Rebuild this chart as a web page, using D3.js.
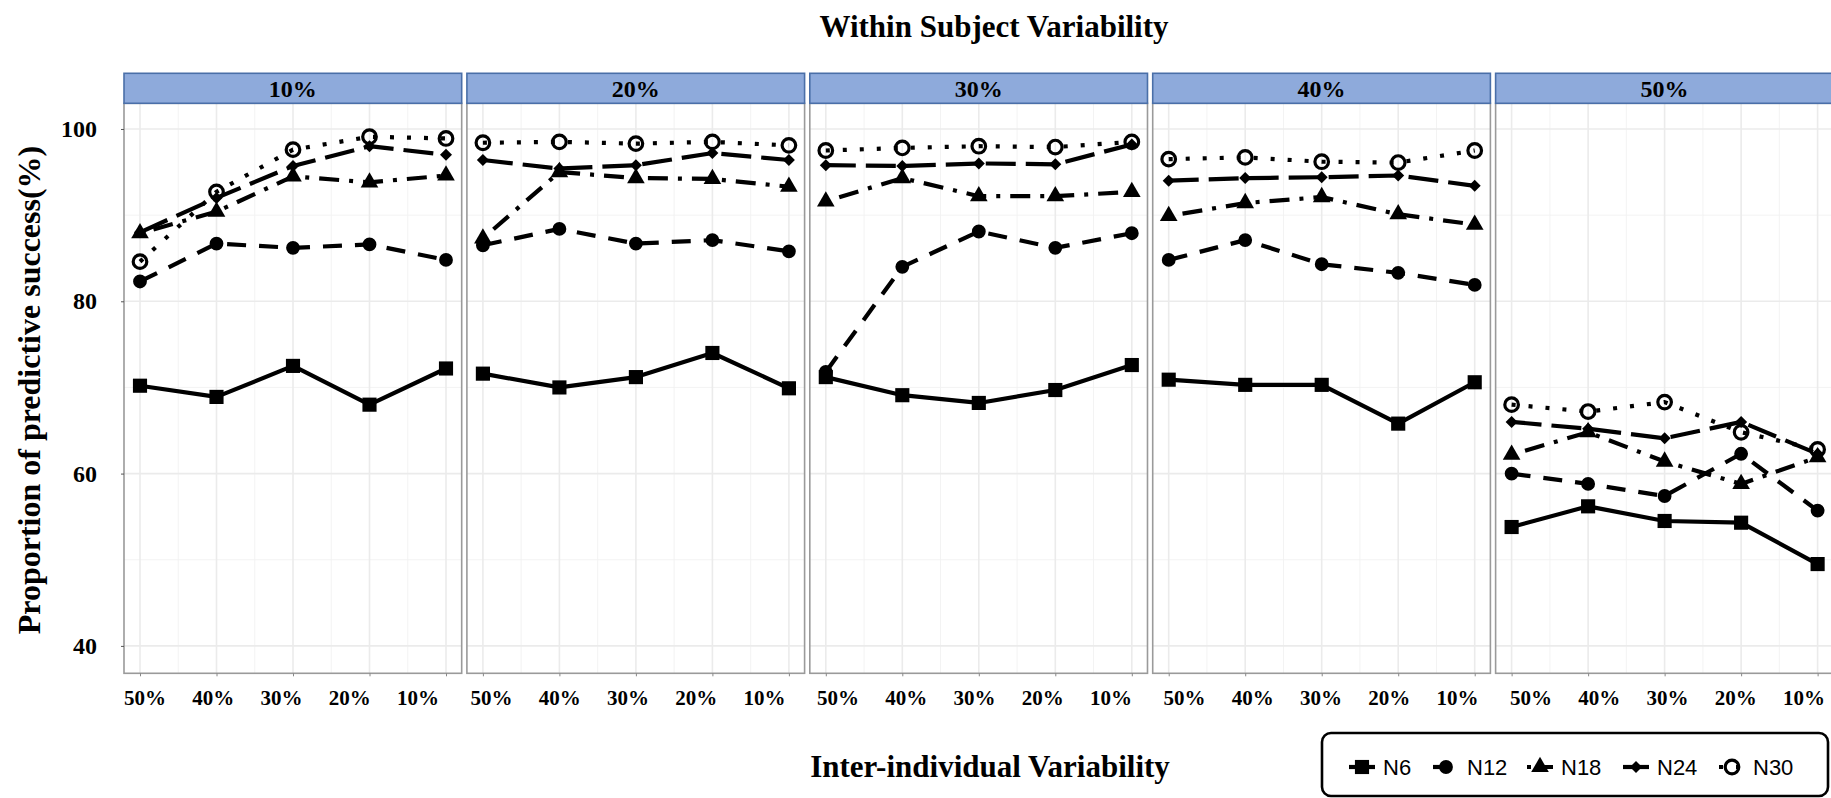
<!DOCTYPE html>
<html>
<head>
<meta charset="utf-8">
<script src="https://cdn.jsdelivr.net/npm/d3@7"></script>
<style>
  body { margin: 0; background: #fff; }
  .serif { font-family: "Liberation Serif", "Times New Roman", serif; }
  .sans { font-family: "Liberation Sans", Arial, sans-serif; }
</style>
</head>
<body>
<script>
// facets (within subject variability) and x categories (inter-individual variability)
var facets = ["10%", "20%", "30%", "40%", "50%"];
var interLevels = ["50%", "40%", "30%", "20%", "10%"];
var groups = ["N6", "N12", "N18", "N24", "N30"];

// one row per facet, one value per inter level
var n6  = [[70.2, 68.9, 72.5, 68.0, 72.2], [71.6, 70.0, 71.2, 74.0, 69.9], [71.2, 69.1, 68.2, 69.7, 72.6], [70.9, 70.3, 70.3, 65.8, 70.6], [53.8, 56.2, 54.5, 54.3, 49.5]];
var n12 = [[82.3, 86.7, 86.2, 86.6, 84.8], [86.5, 88.4, 86.7, 87.1, 85.8], [71.8, 84.0, 88.1, 86.2, 87.9], [84.8, 87.1, 84.3, 83.3, 81.9], [60.0, 58.8, 57.4, 62.3, 55.7]];
var n18 = [[87.9, 90.4, 94.5, 93.8, 94.6], [87.3, 95.0, 94.3, 94.2, 93.3], [91.6, 94.3, 92.2, 92.2, 92.7], [89.9, 91.4, 92.1, 90.1, 88.9], [62.2, 64.8, 61.4, 58.8, 61.9]];
var n24 = [[88.0, 92.0, 95.7, 98.0, 97.0], [96.4, 95.4, 95.8, 97.2, 96.4], [95.8, 95.7, 96.0, 95.9, 98.2], [94.0, 94.3, 94.4, 94.6, 93.4], [66.0, 65.2, 64.1, 66.0, 62.3]];
var n30 = [[84.6, 92.7, 97.6, 99.1, 98.9], [98.4, 98.5, 98.3, 98.5, 98.1], [97.5, 97.8, 98.0, 97.9, 98.5], [96.5, 96.7, 96.2, 96.1, 97.5], [68.0, 67.2, 68.3, 64.8, 62.8]];

var yTicks = [40, 60, 80, 100];
var yMinor = [50, 70, 90];

var seriesValues = { N6: n6, N12: n12, N18: n18, N24: n24, N30: n30 };

var W = 1831, H = 798;
var plotTop = 103.3, plotBottom = 673.3;

var svg = d3.select("body").append("svg")
    .attr("width", W)
    .attr("height", H);

// panel positions
var fx = d3.scaleBand()
    .domain(facets)
    .range([124, 124 + 4 * 342.9 + 337.7])
    .paddingInner(0.0152)
    .paddingOuter(0);
var pw = fx.bandwidth();

var y = d3.scaleLinear().domain([36.82, 102.98]).range([plotBottom, plotTop]);
var x = d3.scalePoint().domain(interLevels).range([16, 322]);
// tick labels sit on a slightly different spacing than the ticks in the original
var xLab = d3.scalePoint().domain(interLevels).range([21, 294]);

// line types and marker shapes
var dashes = { N6: null, N12: "19,13", N18: "4,10,20,10", N24: "30,10", N30: "4,13" };
var lineW = 4.2;

function marker(sel, g) {
  if (g === "N6") {
    sel.append("path").attr("d", d3.symbol(d3.symbolSquare, 200)()).attr("fill", "#000");
  } else if (g === "N12") {
    sel.append("path").attr("d", d3.symbol(d3.symbolCircle, 150)()).attr("fill", "#000");
  } else if (g === "N18") {
    sel.append("path").attr("d", d3.symbol(d3.symbolTriangle, 135)()).attr("fill", "#000");
  } else if (g === "N24") {
    sel.append("path").attr("d", d3.symbol(d3.symbolSquare, 72)()).attr("transform", "rotate(45)").attr("fill", "#000");
  } else {
    sel.append("circle").attr("r", 6.8).attr("fill", "none").attr("stroke", "#000").attr("stroke-width", 3.2);
  }
}

var mids = [];
for (var i = 0; i < interLevels.length - 1; i++) {
  mids.push((x(interLevels[i]) + x(interLevels[i + 1])) / 2);
}

facets.forEach(function(f, fi) {
  var g = svg.append("g").attr("transform", "translate(" + fx(f) + ",0)");

  g.append("rect")
      .attr("x", 0).attr("y", plotTop)
      .attr("width", pw).attr("height", plotBottom - plotTop)
      .attr("fill", "#fff");

  // grid
  g.selectAll(".ymin").data(yMinor).enter().append("line")
      .attr("x1", 0).attr("x2", pw)
      .attr("y1", d => y(d)).attr("y2", d => y(d))
      .attr("stroke", "#f2f2f2").attr("stroke-width", 0.9);
  g.selectAll(".xmin").data(mids).enter().append("line")
      .attr("x1", d => d).attr("x2", d => d)
      .attr("y1", plotTop).attr("y2", plotBottom)
      .attr("stroke", "#f2f2f2").attr("stroke-width", 0.9);
  g.selectAll(".ymaj").data(yTicks).enter().append("line")
      .attr("x1", 0).attr("x2", pw)
      .attr("y1", d => y(d)).attr("y2", d => y(d))
      .attr("stroke", "#ebebeb").attr("stroke-width", 1.6);
  g.selectAll(".xmaj").data(interLevels).enter().append("line")
      .attr("x1", d => x(d)).attr("x2", d => x(d))
      .attr("y1", plotTop).attr("y2", plotBottom)
      .attr("stroke", "#ebebeb").attr("stroke-width", 1.6);

  // lines first, then points on top
  var line = d3.line()
      .x((d, i) => x(interLevels[i]))
      .y(d => y(d));

  groups.forEach(function(s) {
    g.append("path")
        .attr("d", line(seriesValues[s][fi]))
        .attr("fill", "none")
        .attr("stroke", "#000")
        .attr("stroke-width", lineW)
        .attr("stroke-dasharray", dashes[s])
        .attr("stroke-linejoin", "round");
  });
  groups.forEach(function(s) {
    seriesValues[s][fi].forEach(function(v, i) {
      var m = g.append("g").attr("transform", "translate(" + x(interLevels[i]) + "," + y(v) + ")");
      marker(m, s);
    });
  });

  // border
  g.append("rect")
      .attr("x", 0).attr("y", plotTop)
      .attr("width", pw).attr("height", plotBottom - plotTop)
      .attr("fill", "none").attr("stroke", "#9a9a9a").attr("stroke-width", 1.6);

  // strip
  g.append("rect")
      .attr("x", 0).attr("y", 73.3)
      .attr("width", pw).attr("height", 30)
      .attr("fill", "#8eaadb").attr("stroke", "#4a6fa8").attr("stroke-width", 1.6);
  g.append("text")
      .attr("class", "serif")
      .attr("x", pw / 2).attr("y", 96.5)
      .attr("text-anchor", "middle")
      .attr("font-size", 24).attr("font-weight", "bold")
      .text(f);

  // x ticks
  var ax = g.append("g")
      .attr("transform", "translate(0," + plotBottom + ")")
      .call(d3.axisBottom(x).tickSize(3).tickFormat(""));
  ax.select(".domain").remove();
  ax.selectAll("line").attr("stroke", "#888").attr("stroke-width", 1);

  g.selectAll(".xlab").data(interLevels).enter().append("text")
      .attr("class", "serif")
      .attr("x", d => xLab(d) + fi * 3.6)
      .attr("y", 705)
      .attr("text-anchor", "middle")
      .attr("font-size", 21).attr("font-weight", "bold")
      .text(d => d);
});

// y axis on first panel
var ay = svg.append("g")
    .attr("transform", "translate(" + fx(facets[0]) + ",0)")
    .call(d3.axisLeft(y).tickValues(yTicks).tickSize(3).tickPadding(24));
ay.select(".domain").remove();
ay.selectAll("line").attr("stroke", "#555");
ay.selectAll("text")
    .attr("class", "serif")
    .attr("font-family", null)
    .attr("font-size", 24).attr("font-weight", "bold").attr("fill", "#000");

// titles
svg.append("text")
    .attr("class", "serif")
    .attr("x", 994).attr("y", 36.5)
    .attr("text-anchor", "middle")
    .attr("font-size", 31).attr("font-weight", "bold")
    .text("Within Subject Variability");

svg.append("text")
    .attr("class", "serif")
    .attr("x", 990).attr("y", 777)
    .attr("text-anchor", "middle")
    .attr("font-size", 31).attr("font-weight", "bold")
    .text("Inter-individual Variability");

svg.append("text")
    .attr("class", "serif")
    .attr("transform", "translate(40,390) rotate(-90)")
    .attr("text-anchor", "middle")
    .attr("font-size", 32).attr("font-weight", "bold")
    .text("Proportion of predictive success(%)");

// legend
var legend = svg.append("g");
legend.append("rect")
    .attr("x", 1322).attr("y", 733)
    .attr("width", 506).attr("height", 63)
    .attr("rx", 9).attr("ry", 9)
    .attr("fill", "#fff").attr("stroke", "#000").attr("stroke-width", 2.6);

var keyX = [1362, 1446, 1540, 1636, 1732];
groups.forEach(function(s, i) {
  var k = legend.append("g").attr("transform", "translate(" + keyX[i] + ",767)");
  k.append("line")
      .attr("x1", -13).attr("x2", 13)
      .attr("stroke", "#000").attr("stroke-width", lineW)
      .attr("stroke-dasharray", dashes[s]);
  marker(k, s);
  legend.append("text")
      .attr("class", "sans")
      .attr("x", keyX[i] + 21).attr("y", 775)
      .attr("font-size", 22)
      .text(s);
});
</script>
</body>
</html>
